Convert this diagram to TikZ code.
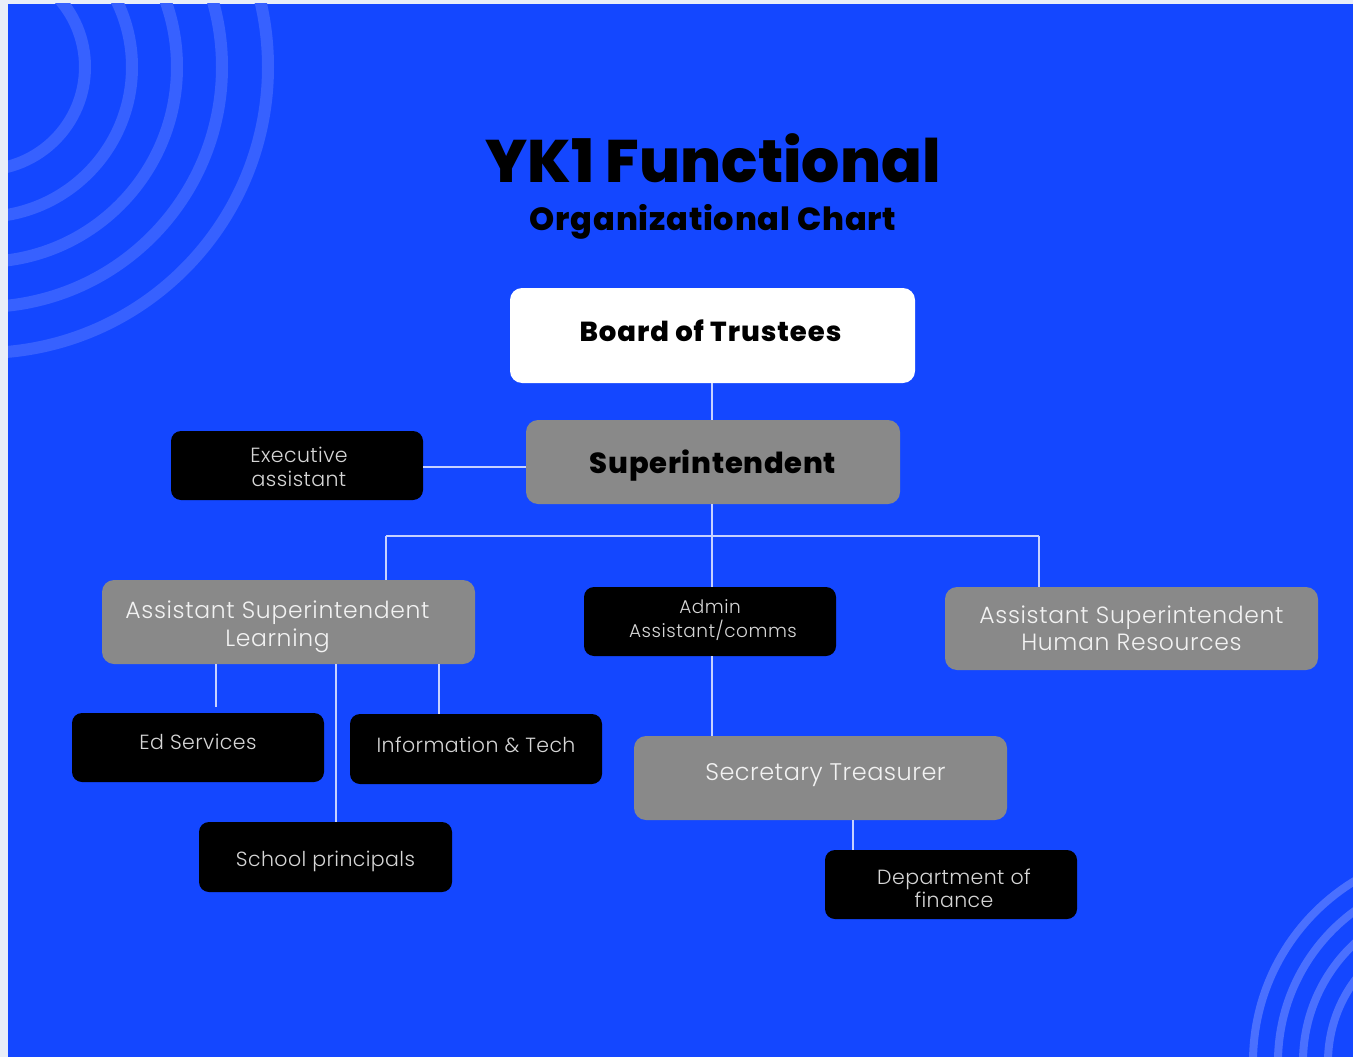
\documentclass[tikz,border=0pt]{standalone}
\usepackage{fontspec}
\setmainfont{Poppins}
\newfontfamily\poptitle{Poppins}[UprightFont={* ExtraBold}]
\newfontfamily\popxb{Poppins}[UprightFont={* ExtraBold}, LetterSpace=3.5]
\newfontfamily\popxbs{Poppins}[UprightFont={* ExtraBold}, LetterSpace=2.5]
\newfontfamily\poplt{Poppins}[UprightFont={* Light}, LetterSpace=2]
\newfontfamily\popltw{Poppins}[UprightFont={* Light}, LetterSpace=2.8]
\newcommand\mlines[2]{\raisebox{#1}[\height][\depth]{\begin{tabular}{@{}c@{}}#2\end{tabular}}}
\newcommand\oneline[2]{\raisebox{#1}[\height][\depth]{#2}}
\definecolor{bgblue}{HTML}{1447FF}
\definecolor{pageedge}{HTML}{E9EEF8}
\definecolor{ringA}{HTML}{3761FF}
\definecolor{ringB}{HTML}{4A70FF}
\definecolor{boxgray}{HTML}{898989}
\definecolor{conncol}{HTML}{C8D2FF}
\definecolor{blacktext}{HTML}{D6D6D6}
\definecolor{graytext}{HTML}{F2F2F2}
\tikzset{
  graybox/.style={fill=boxgray, rounded corners=12pt, inner sep=0pt, text=graytext, align=center,
    minimum width=373pt, minimum height=84pt},
  blackbox/.style={fill=black, rounded corners=10pt, inner sep=0pt, text=blacktext, align=center,
    minimum width=252pt, minimum height=69pt},
  whitebox/.style={fill=white, rounded corners=12pt, inner sep=0pt, text=black, align=center,
    minimum width=405pt, minimum height=95pt},
  conn/.style={draw=conncol, line width=1.6pt}
}
\begin{document}
\begin{tikzpicture}[x=1pt,y=-1pt]
\useasboundingbox (0,0) rectangle (1353,1057);
\fill[pageedge] (0,0) rectangle (1353,1057);
\fill[bgblue] (8,4) rectangle (1353,1057);
\begin{scope}
  \clip (8,4) rectangle (1353,1057);
  \foreach \r in {103,150,195,240,286}
    \draw[ringA, line width=12pt] (-18,67) circle[radius=\r pt];
  \foreach \r in {212,187,162,137}
    \draw[ringB, line width=8pt] (1465,1062) circle[radius=\r pt];
\end{scope}

% title
\node[text=black, font=\poptitle\fontsize{60}{66}\selectfont] (title) at (713,158) {YK1 Functional};
\node[text=black, font=\popxbs\fontsize{32}{36}\selectfont] (subtitle) at (713,222) {Organizational Chart};

% boxes
\node[whitebox, font=\popxb\fontsize{27.5}{32}\selectfont] (board) at (712.5,335.5) {\oneline{5pt}{\hspace*{-4pt}Board of Trustees}};
\node[graybox, text=black, font=\popxbs\fontsize{29}{34}\selectfont, minimum width=374pt] (super) at (713,462) {\oneline{-4pt}{Superintendent}};
\node[blackbox, font=\poplt\fontsize{20.5}{24}\selectfont] (exec) at (297,465.5) {\mlines{-4pt}{\hspace*{4pt}Executive\\\hspace*{4pt}assistant}};
\node[graybox, font=\popltw\fontsize{23.5}{28}\selectfont] (asl) at (288.5,622) {\mlines{-5pt}{\hspace*{-22pt}Assistant Superintendent\\\hspace*{-22pt}Learning}};
\node[blackbox, font=\popltw\fontsize{18.5}{22}\selectfont] (admin) at (710,621.5) {\mlines{0pt}{Admin\\\hspace*{6pt}Assistant/comms}};
\node[graybox, font=\popltw\fontsize{23.5}{27}\selectfont, minimum height=83pt] (ashr) at (1131.5,628.5) {Assistant Superintendent\\Human Resources};
\node[blackbox, font=\poplt\fontsize{20.5}{24}\selectfont] (ed) at (198,747.5) {\oneline{6pt}{Ed Services}};
\node[blackbox, font=\poplt\fontsize{20.5}{24}\selectfont, minimum height=70pt] (info) at (476,749) {\oneline{4pt}{Information \& Tech}};
\node[blackbox, font=\poplt\fontsize{20.5}{24}\selectfont, minimum height=70pt, minimum width=253pt] (school) at (325.5,857) {\oneline{-4pt}{School principals}};
\node[graybox, font=\poplt\fontsize{24}{28}\selectfont] (sec) at (820.5,778) {\oneline{3pt}{\hspace*{10pt}Secretary Treasurer}};
\node[blackbox, font=\poplt\fontsize{20.5}{23}\selectfont] (dept) at (951,884.5) {\mlines{-7pt}{\hspace*{6pt}Department of\\\hspace*{6pt}finance}};

% connectors
\coordinate (busL) at (386,536);
\coordinate (busM) at (712,536);
\coordinate (busR) at (1039,536);
\coordinate (yexec) at (0,467);
\coordinate (xed) at (216,0);
\coordinate (xsch) at (336,0);
\coordinate (xinf) at (439,0);
\coordinate (xmid) at (712,0);
\coordinate (xsec) at (853,0);

\draw[conn] (board.south -| xmid) -- (super.north -| xmid);
\draw[conn] (exec.east |- yexec) -- (super.west |- yexec);
\draw[conn] (super.south -| xmid) -- (busM);
\draw[conn] (busL) -- (busR);
\draw[conn] (busL) -- (busL |- asl.north);
\draw[conn] (busR) -- (busR |- ashr.north);
\draw[conn] (busM) -- (admin.north -| xmid);
\draw[conn] (asl.south -| xed) -- ([yshift=6pt]ed.north -| xed);
\draw[conn] (asl.south -| xinf) -- (info.north -| xinf);
\draw[conn] (asl.south -| xsch) -- (school.north -| xsch);
\draw[conn] (admin.south -| xmid) -- (sec.north -| xmid);
\draw[conn] (sec.south -| xsec) -- (dept.north -| xsec);
\end{tikzpicture}
\end{document}
